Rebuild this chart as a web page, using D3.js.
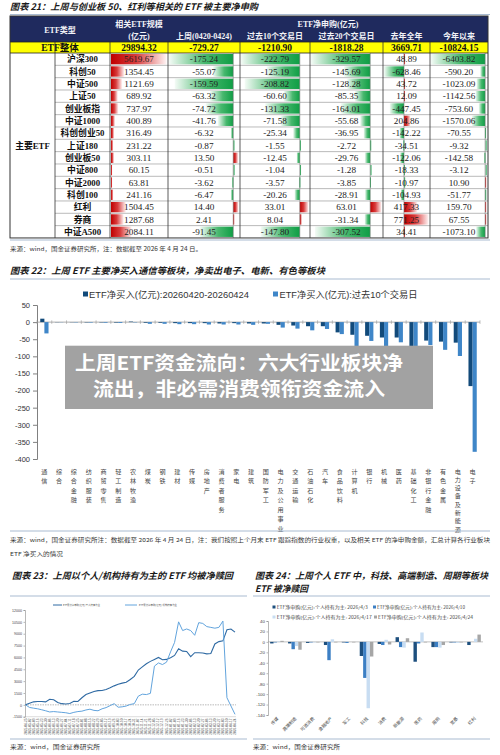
<!DOCTYPE html>
<html><head><meta charset="utf-8">
<script src="https://cdn.jsdelivr.net/npm/d3@7"></script>
<style>body{margin:0;background:#fff}svg{display:block}</style>
</head><body>
<svg id="c" width="500" height="755"></svg>
<script>
// ===================== DATA =====================
// Table (图表21)
const tableRows = ["沪深300","科创50","中证500","上证50","创业板指","中证1000","科创创业50","上证180","创业板50","中证800","中证2000","科创100","红利","券商","中证A500"];
const etfSize   = [5619.67,1354.45,1121.69,689.92,737.97,400.89,316.49,231.22,303.11,60.15,63.81,241.16,1504.45,1287.68,2084.11];
const lastWeek  = [-175.24,-55.07,-159.59,-63.32,-74.72,-41.76,-6.32,-0.87,13.50,-0.51,-3.62,-6.47,14.40,2.41,-91.45];
const past10    = [-222.79,-125.19,-208.82,-60.60,-131.33,-71.58,-25.34,-1.55,-12.45,-1.04,-3.57,-20.26,33.01,8.04,-147.80];
const past20    = [-329.57,-145.69,-128.28,-85.35,-164.01,-55.68,-36.95,-2.72,-29.76,-1.28,-3.85,-28.91,63.01,-31.34,-307.52];
const lastYear  = [48.89,-628.46,43.72,12.09,-447.45,204.86,-142.22,-34.51,-122.06,-18.33,-10.97,-104.93,417.33,771.25,34.41];
const ytd       = [-6403.82,-590.20,-1023.09,-1142.56,-753.60,-1570.06,-70.55,-9.32,-142.58,-3.12,10.90,-51.77,159.70,67.55,-1073.10];
const totalRow  = ["29894.32","-729.27","-1210.90","-1818.28","3669.71","-10824.15"];
const subHeaders = ["上周(0420-0424)","过去10个交易日","过去20个交易日","去年全年","今年以来"];

// Bar chart (图表22)
const industries = ["通信","综合","综合金融","纺织服装","商贸零售","轻工制造","农林牧渔","煤炭","钢铁","建材","传媒","房地产","消费者服务","家电","建筑","国防军工","电力及公用事业","交通运输","石油石化","汽车","食品饮料","计算机","银行","机械","医药","基础化工","非银行金融","有色金属","电力设备及新能源","电子"];
const netBuyWeek = [10,-0.5,-0.5,-1,-1,-1.5,1.5,-2,-2,-3,-3,-3,-4,-3,-4,-4,-8,-10,-12,-12,-30,-37,-40,-45,-45,-70,-54,-57,-60,-187];
const netBuy10d  = [-33,-0.5,-1,-1.5,-2,-2.5,-1,-5,-5,-6,-6,-7,-7,-7,-8,-5,-16,-19,-24,-20,-35,-84,-55,-72,-59,-76,-67,-81,-99,-379];
const barTicks   = [50,0,-50,-100,-150,-200,-250,-300,-350,-400];
const barLegend  = ["ETF净买入(亿元):20260420-20260424","ETF净买入(亿元):过去10个交易日"];

// Line chart (图表23)
const lineDates = ["2025-04-25","2025-05-02","2025-05-09","2025-05-16","2025-05-23","2025-05-30","2025-06-06","2025-06-13","2025-06-20","2025-06-27","2025-07-04","2025-07-11","2025-07-18","2025-07-25","2025-08-01","2025-08-08","2025-08-15","2025-08-22","2025-08-29","2025-09-05","2025-09-12","2025-09-19","2025-09-26","2025-10-03","2025-10-10","2025-10-17","2025-10-24","2025-10-31","2025-11-07","2025-11-14","2025-11-21","2025-11-28","2025-12-05","2025-12-12","2025-12-19","2025-12-26","2026-01-02","2026-01-09","2026-01-16","2026-01-23","2026-01-30","2026-02-06","2026-02-13","2026-02-20","2026-02-27","2026-03-06","2026-03-13","2026-03-20","2026-03-27","2026-04-03","2026-04-10","2026-04-17","2026-04-24"];
const personalCum = [0,200,380,420,430,380,700,650,300,150,100,180,450,420,900,1300,1500,1700,1800,1820,1950,2150,2400,2600,2750,2850,3200,3600,4400,4800,5200,5500,5750,6000,5700,5750,5950,6250,7100,6800,6750,6100,6600,6600,6550,6450,6500,7700,8000,8100,9500,9600,9200];
const instCum     = [0,-330,-420,-500,-620,-750,-900,-850,-900,-950,-1000,-1100,-950,-850,-800,-650,-550,-700,-750,-500,-350,-100,150,-300,-250,-150,50,150,1100,1350,1300,1450,4900,5300,5100,5400,6700,7900,10500,9400,9600,9400,8800,10400,10300,9900,9800,9700,9800,10600,900,-150,-1200];
const lineTicks = [12000,10500,9000,7500,6000,4500,3000,1500,0,-1500];
const lineLegend = ["ETF累计净申购(亿元):个人持有为主","ETF累计净申购(亿元):机构持有为主"];

// Grouped bars (图表24)
const sectors = ["传媒","高端制造","可选消费","金融地产","军工","科技","消费","新能源","医药","周期","宽基","红利"];
const s0403 = [-3,-3,-2,-6,-1,-27,-4,9,-38,-10,-1,-6];
const s0410 = [-1,-14,-1,-35,-2,-69,-6,-10,-3,-10,-1,0];
const s0417 = [1,-8,-1,5,0,-127,4,-11,18,-11,-2,6];
const s0424 = [2,-15,-1,-1,-1,-28,-5,7,-1,-6,-1,14];
const sectorTicks = [40,20,0,-20,-40,-60,-80,-100,-120,-140];
const sectorLegend = ["ETF净申购(亿元):个人持有为主: 2026/4/3","ETF净申购(亿元):个人持有为主: 2026/4/10","ETF净申购(亿元):个人持有为主: 2026/4/17","ETF净申购(亿元):个人持有为主: 2026/4/24"];

// ===================== DRAW =====================
const svg = d3.select('#c');
const SERIF = "'Liberation Serif','Noto Sans CJK SC',serif";
const SANS  = "'Liberation Sans','Noto Sans CJK SC',sans-serif";
const CJK   = "'Noto Sans CJK SC','Liberation Sans',sans-serif";
svg.append('rect').attr('width',500).attr('height',755).attr('fill','#fff');

function txt(x,y,s,o){
  o=o||{};
  const t=svg.append('text').attr('x',x).attr('y',y).text(s)
   .attr('font-family',o.ff||CJK).attr('font-size',o.fs||6)
   .attr('fill',o.fill||'#222').attr('text-anchor',o.anchor||'start');
  if(o.fw) t.attr('font-weight',o.fw);
  if(o.italic) t.attr('font-style','italic');
  if(o.len) t.attr('textLength',o.len).attr('lengthAdjust','spacingAndGlyphs');
  return t;
}
function rule(x1,x2,y){svg.append('line').attr('x1',x1).attr('x2',x2).attr('y1',y).attr('y2',y).attr('stroke','#a9bbd1').attr('stroke-width',1);}

// gradients
const defs=svg.append('defs');
const gR=defs.append('linearGradient').attr('id','gR');
gR.append('stop').attr('offset','0').attr('stop-color','#c00000');
gR.append('stop').attr('offset','0.45').attr('stop-color','#d83c3c');
gR.append('stop').attr('offset','1').attr('stop-color','#fff4f4');
const gG=defs.append('linearGradient').attr('id','gG');
gG.append('stop').attr('offset','0').attr('stop-color','#f4fbf6');
gG.append('stop').attr('offset','0.55').attr('stop-color','#48b86e');
gG.append('stop').attr('offset','1').attr('stop-color','#0f9e45');

// ---------- Title 21 + table ----------
txt(10,9.5,"图表 21：上周与创业板 50、红利等相关的 ETF 被主要净申购",{fs:9,fw:700,italic:true,len:248,fill:'#1a1a1a'});
rule(10,490,14.5);

const T={x0:10,x1:488,hTop:16,hBot:42,totBot:53,rowH:12.33};
const colX=[10,55,110,168,240,310,383,430,488];
svg.append('rect').attr('x',T.x0).attr('y',T.hTop).attr('width',T.x1-T.x0).attr('height',T.hBot-T.hTop).attr('fill','#1f2a5e');
const HW={ff:SERIF,fs:8,fw:700,fill:'#f2f2f7',anchor:'middle'};
txt(60,32.5,"ETF类型",HW);
txt(139,27,"相关ETF规模",HW);
txt(139,38.5,"(亿元)",HW);
txt(328,27,"ETF净申购(亿元)",HW);
subHeaders.forEach((s,i)=>txt((colX[i+3]+colX[i+4])/2,38.5,s,HW));

// total row
svg.append('rect').attr('x',T.x0).attr('y',T.hBot).attr('width',T.x1-T.x0).attr('height',T.totBot-T.hBot).attr('fill','#ffff00');
txt(60,51,"ETF整体",{ff:SERIF,fs:9.5,fw:700,anchor:'middle',fill:'#111'});
totalRow.forEach((s,i)=>txt((colX[i+2]+colX[i+3])/2,51,s,{ff:SERIF,fs:9.5,fw:700,anchor:'middle',fill:'#111'}));

// bars
const numCols=[etfSize,lastWeek,past10,past20,lastYear,ytd];
const rowY=i=>T.totBot+i*T.rowH;
numCols.forEach((vals,ci)=>{
  const x0=colX[ci+2], x1=colX[ci+3];
  const lo=Math.min(0,d3.min(vals)), hi=Math.max(0,d3.max(vals));
  const xs=d3.scaleLinear().domain([lo,hi]).range([x0+1,x1-1.5]);
  const g=svg.append('g');
  g.selectAll('rect').data(vals).join('rect')
   .attr('x',d=>d>=0?xs(0):xs(d))
   .attr('y',(d,i)=>rowY(i)+1)
   .attr('width',d=>Math.max(1.5,Math.abs(xs(d)-xs(0))))
   .attr('height',T.rowH-2)
   .attr('fill',d=>d>=0?'url(#gR)':'url(#gG)');
  if(lo<0){
    g.append('line').attr('x1',xs(0)).attr('x2',xs(0)).attr('y1',T.totBot).attr('y2',rowY(vals.length))
     .attr('stroke','#777').attr('stroke-width',0.6);
  }
  vals.forEach((v,i)=>txt((x0+x1)/2,rowY(i)+9.3,v.toFixed(2),{ff:SERIF,fs:9.2,anchor:'middle',fill:'#222'}));
});
// row labels
tableRows.forEach((s,i)=>txt(82.5,rowY(i)+9.3,s,{ff:SERIF,fs:8.8,fw:700,anchor:'middle',fill:'#111'}));
txt(32.5,rowY(7)+9.5,"主要ETF",{ff:SERIF,fs:8.8,fw:700,anchor:'middle',fill:'#111'});
// grid lines
for(let i=1;i<tableRows.length;i++){
  svg.append('line').attr('x1',55).attr('x2',T.x1).attr('y1',rowY(i)).attr('y2',rowY(i)).attr('stroke','#8c8c8c').attr('stroke-width',0.6);
}
colX.slice(1,-1).forEach(x=>{
  svg.append('line').attr('x1',x).attr('x2',x).attr('y1',T.hBot).attr('y2',rowY(tableRows.length)).attr('stroke','#333').attr('stroke-width',0.8);
});
svg.append('line').attr('x1',T.x0).attr('x2',T.x1).attr('y1',T.hBot).attr('y2',T.hBot).attr('stroke','#222').attr('stroke-width',0.8);
svg.append('line').attr('x1',T.x0).attr('x2',T.x1).attr('y1',T.totBot).attr('y2',T.totBot).attr('stroke','#222').attr('stroke-width',0.8);
svg.append('rect').attr('x',T.x0).attr('y',T.hTop).attr('width',T.x1-T.x0).attr('height',rowY(tableRows.length)-T.hTop)
 .attr('fill','none').attr('stroke','#333').attr('stroke-width',1);

rule(10,490,240);
txt(10,251,"来源：wind，国金证券研究所，注：数据截至 2026 年 4 月 24 日。",{fs:5.5,len:192,fill:'#333'});

// ---------- Title 22 + bar chart ----------
txt(10,273.5,"图表 22：上周 ETF 主要净买入通信等板块，净卖出电子、电新、有色等板块",{fs:9,fw:700,italic:true,len:315,fill:'#1a1a1a'});
rule(10,490,279);

const C1='#124a7a', C2='#3f86c8';
svg.append('rect').attr('x',83).attr('y',291.5).attr('width',5).attr('height',5).attr('fill',C1);
txt(89,298,barLegend[0],{ff:SANS,fs:8.6,fill:'#333',len:160});
svg.append('rect').attr('x',273).attr('y',291.5).attr('width',5).attr('height',5).attr('fill',C2);
txt(279.5,298,barLegend[1],{ff:SANS,fs:8.6,fill:'#333',len:138});

const yB=d3.scaleLinear().domain([-400,50]).range([459,305]);
const xB=d3.scaleBand().domain(industries).range([37,480]).paddingInner(0.44).paddingOuter(0.22);
const xS=d3.scaleBand().domain(['w','t']).range([0,xB.bandwidth()]);
const gy=svg.append('g').attr('transform','translate(37,0)')
  .call(d3.axisLeft(yB).tickValues(barTicks).tickSize(4).tickPadding(3).tickFormat(d=>String(d)));
gy.selectAll('path,line').attr('stroke','#808080');
gy.selectAll('text').attr('font-family',SANS).attr('font-size',7.5).attr('fill','#333');
const y0=yB(0);
svg.append('line').attr('x1',37).attr('x2',480).attr('y1',y0).attr('y2',y0).attr('stroke','#999').attr('stroke-width',0.8);
const step=xB.step();
d3.range(industries.length+1).forEach(k=>{
  const x=37+step*k;
  svg.append('line').attr('x1',x).attr('x2',x).attr('y1',y0-1.8).attr('y2',y0+1.8).attr('stroke','#999').attr('stroke-width',0.6);
});
const gb=svg.append('g');
gb.selectAll('.w').data(industries).join('rect')
  .attr('x',c=>xB(c)+xS('w')).attr('width',xS.bandwidth())
  .attr('y',(c,i)=>Math.min(yB(netBuyWeek[i]),y0)).attr('height',(c,i)=>Math.abs(yB(netBuyWeek[i])-y0)).attr('fill',C1);
gb.selectAll('.t').data(industries).join('rect')
  .attr('x',c=>xB(c)+xS('t')).attr('width',xS.bandwidth())
  .attr('y',(c,i)=>Math.min(yB(netBuy10d[i]),y0)).attr('height',(c,i)=>Math.abs(yB(netBuy10d[i])-y0)).attr('fill',C2);
// vertical labels (stacked characters)
industries.forEach(c=>{
  const cx=xB(c)+xB.bandwidth()/2;
  const chars=Array.from(c);
  const sp=Math.min(9.5,58/Math.max(1,chars.length-1));
  chars.forEach((ch,j)=>txt(cx,473.5+j*sp,ch,{fs:6.1,anchor:'middle',fill:'#444'}));
});

rule(10,490,531);
txt(10,541.5,"来源：wind，国金证券研究所注：数据截至 2026 年 4 月 24 日，注：我们按照上个月末 ETF 跟踪指数的行业权重，以及相关 ETF 的净申购金额，汇总计算各行业板块",{fs:5.3,len:480,fill:'#333'});
txt(10,556,"ETF 净买入的情况",{fs:5.3,len:53,fill:'#333'});

// ---------- Title 23 + line chart ----------
txt(12,578.5,"图表 23：上周以个人/机构持有为主的 ETF 均被净赎回",{fs:9,fw:700,italic:true,len:221,fill:'#1a1a1a'});
rule(10,247,596);
const LC1='#2f6aa3', LC2='#62a4dd';
svg.append('line').attr('x1',53).attr('x2',62).attr('y1',605).attr('y2',605).attr('stroke',LC1).attr('stroke-width',1);
txt(63,606.2,lineLegend[0],{fs:2.6,len:37,fill:'#444'});
svg.append('line').attr('x1',125).attr('x2',137).attr('y1',605).attr('y2',605).attr('stroke',LC2).attr('stroke-width',1);
txt(139,606.2,lineLegend[1],{fs:2.6,len:38,fill:'#444'});

const xL=d3.scaleLinear().domain([0,lineDates.length-1]).range([25.5,235]);
const yL=d3.scaleLinear().domain([-1500,12000]).range([716.7,610]);
const gly=svg.append('g').attr('transform','translate(25,0)')
  .call(d3.axisLeft(yL).tickValues(lineTicks).tickSize(1.5).tickPadding(1.5).tickFormat(d=>String(d)));
gly.selectAll('path,line').attr('stroke','#888').attr('stroke-width',0.6);
gly.selectAll('text').attr('font-family',SANS).attr('font-size',3.6).attr('fill','#444');
svg.append('line').attr('x1',25).attr('x2',236).attr('y1',yL(0)).attr('y2',yL(0)).attr('stroke','#888').attr('stroke-width',0.6).attr('stroke-dasharray','1.5,1');
svg.append('line').attr('x1',25).attr('x2',236).attr('y1',716.7).attr('y2',716.7).attr('stroke','#aaa').attr('stroke-width',0.4);
const ln=d3.line().x((d,i)=>xL(i)).y(d=>yL(d));
svg.append('path').datum(personalCum).attr('d',ln).attr('fill','none').attr('stroke',LC1).attr('stroke-width',1.1);
svg.append('path').datum(instCum).attr('d',ln).attr('fill','none').attr('stroke',LC2).attr('stroke-width',1);
lineDates.forEach((d,i)=>{
  svg.append('text').attr('transform',`translate(${xL(i)+1},718.5) rotate(-90)`).attr('text-anchor','end')
   .attr('font-family',SANS).attr('font-size',3.2).attr('fill','#555').text(d);
});
rule(10,247,739);
txt(10,748.5,"来源：wind，国金证券研究所",{fs:5.5,len:90,fill:'#333'});

// ---------- Title 24 + grouped bars ----------
txt(255,578.5,"图表 24：上周个人 ETF 中，科技、高端制造、周期等板块",{fs:9,fw:700,italic:true,len:233,fill:'#1a1a1a'});
txt(255,591.5,"ETF 被净赎回",{fs:9,fw:700,italic:true,len:53,fill:'#1a1a1a'});
rule(253,490,596);
const SC=['#1d4f7e','#3c7fc4','#c8ddf2','#a6a6a6'];
const legPos=[[272.5,603.5,276.7,91],[373,603.5,377,88],[272.5,613.5,276.7,95],[374,613.5,378,95]];
sectorLegend.forEach((s,i)=>{
  const p=legPos[i];
  svg.append('rect').attr('x',p[0]).attr('y',p[1]+2).attr('width',3).attr('height',3).attr('fill',SC[i]);
  txt(p[2],p[1]+5,s,{fs:4.2,len:p[3],fill:'#444'});
});
const xR=d3.scaleBand().domain(sectors).range([268,483]).paddingInner(0.24).paddingOuter(0.12);
const xRs=d3.scaleBand().domain([0,1,2,3]).range([0,xR.bandwidth()]);
const yR=d3.scaleLinear().domain([-140,40]).range([715,621]);
const gry=svg.append('g').attr('transform','translate(268,0)')
  .call(d3.axisLeft(yR).tickValues(sectorTicks).tickSize(1.5).tickPadding(1.5).tickFormat(d=>String(d)));
gry.selectAll('path,line').attr('stroke','#888').attr('stroke-width',0.6);
gry.selectAll('text').attr('font-family',SANS).attr('font-size',4.4).attr('fill','#444');
const yr0=yR(0);
svg.append('line').attr('x1',268).attr('x2',483).attr('y1',yr0).attr('y2',yr0).attr('stroke','#999').attr('stroke-width',0.6);
[s0403,s0410,s0417,s0424].forEach((arr,k)=>{
  svg.append('g').selectAll('rect').data(sectors).join('rect')
   .attr('x',c=>xR(c)+xRs(k)).attr('width',xRs.bandwidth())
   .attr('y',(c,i)=>Math.min(yR(arr[i]),yr0)).attr('height',(c,i)=>Math.abs(yR(arr[i])-yr0)).attr('fill',SC[k]);
});
sectors.forEach(c=>{
  const cx=xR(c)+xR.bandwidth()/2;
  svg.append('text').attr('transform',`translate(${cx+2},719) rotate(-45)`).attr('text-anchor','end')
   .attr('font-family',CJK).attr('font-size',4.4).attr('fill','#444').text(c);
});
rule(253,490,739);
txt(253,748.5,"来源：wind，国金证券研究所",{fs:5.5,len:87,fill:'#333'});

// ---------- Overlay banner ----------
svg.append('rect').attr('x',65).attr('y',345.7).attr('width',368).attr('height',63.3).attr('fill','#a2a2a2');
txt(239,369.5,"上周ETF资金流向：六大行业板块净",{fs:19,fw:700,anchor:'middle',fill:'#fff',len:328});
txt(239,396,"流出，非必需消费领衔资金流入",{fs:19,fw:700,anchor:'middle',fill:'#fff',len:292});
</script>
</body></html>
